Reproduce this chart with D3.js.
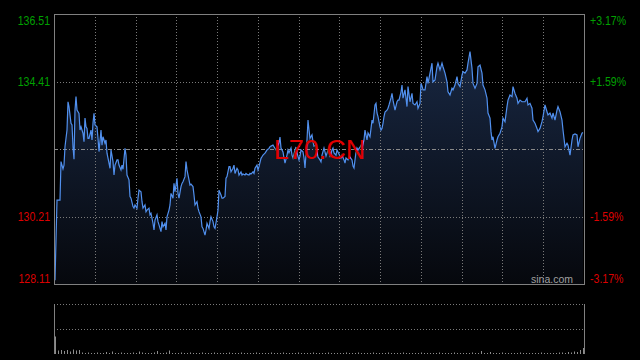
<!DOCTYPE html>
<html><head><meta charset="utf-8">
<script src="https://cdn.jsdelivr.net/npm/d3@7"></script>
<style>html,body{margin:0;padding:0;background:#000;overflow:hidden}</style>
</head><body><svg id="c" width="640" height="360"></svg>
<script>
const title = "L70.CN";
const source = "sina.com";
const prevClose = 132.31;
const priceTicks = [136.51, 134.41, 130.21, 128.11];
const pctLabels = ["+3.17%", "+1.59%", "-1.59%", "-3.17%"];
const gridPrices = [134.41, 132.31, 130.21];
const totalSlots = 530;
const minutes = [1,3,6,7,9,10,11,13,14,15,17,18,19,20,21,22,23,25,26,27,29,30,31,32,33,34,35,37,38,39,40,41,43,44,45,47,48,49,51,52,53,55,56,57,59,60,61,63,64,65,67,68,69,71,72,73,75,76,77,79,80,81,83,84,85,87,88,89,91,92,93,95,96,97,99,100,101,103,104,105,107,108,109,111,112,113,115,116,117,119,120,121,123,124,125,127,128,129,131,132,133,135,136,137,139,140,141,143,144,145,147,148,149,151,152,153,155,156,157,159,160,161,163,164,165,167,168,169,171,172,173,175,176,177,179,180,181,183,184,185,187,188,189,191,192,193,195,196,197,199,200,201,203,204,205,207,208,209,211,212,213,215,216,217,219,220,222,223,225,226,227,229,230,231,233,234,235,237,238,239,241,242,243,245,246,247,249,250,251,253,254,255,256,258,259,260,262,263,264,266,267,268,270,271,272,274,275,276,278,279,280,282,283,284,286,287,288,290,291,292,294,295,296,298,299,300,302,303,304,306,307,308,310,311,313,314,316,318,319,321,322,323,324,326,327,328,329,330,331,333,334,335,337,338,339,341,343,344,345,347,348,349,351,353,354,356,358,359,361,363,364,366,367,368,369,371,373,374,376,378,379,381,383,384,386,388,389,391,393,394,396,398,399,401,403,404,406,408,409,411,413,414,416,418,419,421,423,424,426,428,429,431,433,434,436,437,438,439,441,443,444,446,448,449,451,453,454,456,458,459,461,463,464,466,468,469,471,473,474,476,478,479,481,483,484,486,488,489,491,493,494,496,498,499,501,503,504,506,508,509,511,513,514,516,518,519,521,523,524,526,528,529];
const prices = [128.23,130.72,130.72,131.92,131.69,131.81,132.38,132.90,133.78,133.63,133.11,133.06,132.38,131.99,133.52,133.94,133.52,133.42,132.90,133.00,132.80,132.54,133.27,133.00,132.95,132.64,132.64,132.90,132.59,133.11,133.42,133.06,133.00,132.64,132.23,132.90,132.43,132.69,132.49,132.59,132.18,131.87,131.71,132.28,131.92,131.50,131.81,131.97,131.97,131.81,131.66,131.81,131.68,132.33,132.12,131.50,131.35,130.83,130.78,130.52,130.47,130.57,130.47,130.78,131.03,130.98,130.67,130.47,130.57,130.36,130.41,130.47,130.26,130.31,130.00,129.79,130.10,130.26,130.05,129.95,129.74,130.05,129.89,130.00,129.79,130.20,130.41,130.57,130.93,130.78,131.24,130.98,131.40,130.93,130.78,131.14,131.24,131.29,131.45,131.92,131.66,131.35,131.19,131.22,131.14,130.88,130.57,130.67,130.47,130.36,130.20,129.89,129.84,129.63,129.79,130.00,129.84,130.05,130.20,130.05,129.89,129.84,130.20,130.41,131.03,130.88,130.78,130.78,130.83,131.40,131.45,131.76,131.76,131.60,131.71,131.81,131.55,131.71,131.66,131.50,131.60,131.50,131.53,131.50,131.55,131.52,131.50,131.55,131.53,131.60,131.55,131.71,131.81,131.66,131.76,132.02,132.07,132.12,132.18,132.23,132.28,132.33,132.38,132.40,132.43,132.38,132.28,132.37,132.50,132.68,132.34,132.22,132.03,131.87,132.12,132.28,132.19,132.34,132.12,132.03,132.28,132.37,132.19,131.97,132.09,132.28,132.22,132.03,131.72,132.59,133.21,132.90,132.64,132.75,132.53,132.40,132.43,132.22,132.06,131.97,131.91,132.12,132.34,132.22,132.09,132.28,132.22,132.06,132.28,132.34,132.19,132.12,132.28,132.22,132.09,132.03,132.12,131.97,131.87,132.03,131.97,132.09,132.06,131.97,131.78,131.72,132.22,132.34,132.28,132.37,132.43,132.34,132.59,132.90,132.59,132.81,132.69,133.21,133.11,133.68,133.73,133.43,133.32,133.00,132.90,132.95,133.11,133.32,133.46,133.52,133.58,133.68,133.90,134.04,133.83,133.52,133.78,133.83,133.83,134.08,134.30,133.89,134.15,133.63,134.25,133.78,134.04,133.73,133.68,133.78,133.58,133.73,134.35,134.27,134.15,134.15,134.56,134.35,134.67,134.98,134.40,134.46,134.87,134.98,134.77,134.98,134.87,134.67,134.40,134.09,133.99,134.20,134.15,134.30,134.56,134.35,134.25,134.61,134.72,134.67,134.77,134.98,135.34,134.82,134.35,134.20,134.35,134.87,134.92,134.67,134.30,134.15,133.89,133.43,133.27,132.85,132.59,132.69,132.33,132.59,132.69,132.80,133.00,133.27,133.16,133.63,133.83,133.99,133.94,134.25,134.04,133.89,133.73,133.83,133.78,133.78,133.78,133.89,133.68,133.73,133.58,133.21,133.11,132.95,132.85,132.95,133.16,133.32,133.68,133.47,133.37,133.43,133.27,133.43,133.21,133.52,133.63,133.47,133.21,132.90,132.38,132.49,132.43,132.12,132.59,132.75,132.78,132.75,132.38,132.64,132.80,132.82];
const volStep = 3;
const volumes = [35,7,8,6,8,5,9,7,8,3,2,3,2,2,3,2,2,4,2,5,2,2,3,2,2,2,3,2,5,3,2,2,2,3,6,2,2,3,7,2,2,2,3,2,2,3,2,2,2,3,2,2,2,3,2,2,2,2,3,2,2,2,3,2,2,2,2,3,2,2,2,2,3,2,2,2,3,2,2,2,2,3,2,2,2,2,3,2,2,2,2,3,2,2,2,2,2,3,2,2,2,3,2,2,2,2,3,2,2,2,2,3,2,2,2,2,3,2,2,2,2,2,3,2,2,2,2,2,3,2,2,2,2,3,2,2,2,2,2,3,2,2,6,2,2,4,2,2,2,3,2,2,2,2,2,3,2,2,2,2,2,2,3,2,2,2,2,2,3,3,2,4,3,5,4,8,12];

const data = minutes.map((m, i) => ({t: m, p: prices[i]}));
const volData = volumes.map((v, i) => ({t: 1 + i * volStep, v}));

const L = 54, R = 584, T = 14, B = 284, VT = 304, VB = 354;
const svg = d3.select("#c");
svg.append("rect").attr("width", 640).attr("height", 360).attr("fill", "#000");

const x = d3.scaleLinear().domain([0, totalSlots]).range([L, R]);
const y = d3.scaleLinear().domain([128.11, 136.51]).range([B, T]);
const yv = d3.scaleLinear().domain([0, 100]).range([VB, VT]);

const defs = svg.append("defs");
const grad = defs.append("linearGradient").attr("id", "ag").attr("gradientUnits", "userSpaceOnUse")
  .attr("x1", 0).attr("x2", 0).attr("y1", y(135.4)).attr("y2", B);
grad.append("stop").attr("offset", 0).attr("stop-color", "#182742");
grad.append("stop").attr("offset", 1).attr("stop-color", "#06080d");

svg.append("path").datum(data)
  .attr("d", d3.area().x(d => x(d.t)).y0(B).y1(d => y(d.p)))
  .attr("fill", "url(#ag)");

const gridColor = "#7a7a7a";
const vTicks = d3.range(1, 13).map(k => totalSlots * k / 13);
svg.append("g").selectAll("line").data(vTicks).join("line")
  .attr("x1", d => Math.round(x(d)) + 0.5).attr("x2", d => Math.round(x(d)) + 0.5)
  .attr("y1", T).attr("y2", B)
  .attr("stroke", gridColor).attr("stroke-dasharray", "1,2");
svg.append("g").selectAll("line").data(gridPrices).join("line")
  .attr("x1", L).attr("x2", R)
  .attr("y1", d => Math.round(y(d)) + 0.5).attr("y2", d => Math.round(y(d)) + 0.5)
  .attr("stroke", d => d === prevClose ? "#8a8a8a" : gridColor)
  .attr("stroke-dasharray", d => d === prevClose ? "4,2,1,2" : "1,2");

svg.append("path").datum(data)
  .attr("d", d3.line().x(d => x(d.t)).y(d => y(d.p)))
  .attr("fill", "none").attr("stroke", "#5190ee").attr("stroke-width", 1.2);

svg.append("rect").attr("x", L + 0.5).attr("y", T + 0.5).attr("width", R - L).attr("height", B - T)
  .attr("fill", "none").attr("stroke", "#808080");

svg.append("g").selectAll("rect").data(volData).join("rect")
  .attr("x", d => Math.round(x(d.t))).attr("width", 1)
  .attr("y", d => yv(d.v)).attr("height", d => VB - yv(d.v))
  .attr("fill", "#8c8c8c");
svg.append("g").selectAll("line").data([VT, (VT + VB) / 2]).join("line")
  .attr("x1", L).attr("x2", R).attr("y1", d => Math.round(d) + 0.5).attr("y2", d => Math.round(d) + 0.5)
  .attr("stroke", gridColor).attr("stroke-dasharray", "1,2");
svg.append("g").selectAll("line").data([L, R]).join("line")
  .attr("x1", d => d + 0.5).attr("x2", d => d + 0.5).attr("y1", VT).attr("y2", VB)
  .attr("stroke", "#808080");

const font = "'Liberation Sans',Arial,sans-serif";
const colorOf = v => v > prevClose ? "#00a000" : "#dd0000";
const gl = svg.append("g").attr("transform", `translate(${L - 1},0)`)
  .call(d3.axisLeft(y).tickValues(priceTicks).tickSize(0).tickPadding(3).tickFormat(d3.format(".2f")));
const gr = svg.append("g").attr("transform", `translate(${R + 3},0)`)
  .call(d3.axisRight(y).tickValues(priceTicks).tickSize(0).tickPadding(3).tickFormat((d, i) => pctLabels[i]));
[gl, gr].forEach(g => {
  g.select(".domain").remove();
  g.selectAll("text")
    .attr("font-family", font).attr("font-size", "12px")
    .attr("fill", d => colorOf(d))
    .attr("dy", d => d === 136.51 ? "0.86em" : d === 128.11 ? "-0.14em" : "0.36em")
    .each(function() {
      const w = this.getComputedTextLength();
      d3.select(this).attr("textLength", w * 0.88).attr("lengthAdjust", "spacingAndGlyphs");
    });
});

svg.append("text").attr("x", 573).attr("y", 283).attr("text-anchor", "end")
  .attr("font-family", font).attr("font-size", "10.5px")
  .attr("fill", "#a0a0a0").text(source);

svg.append("text").attr("x", 319.5).attr("y", 159.3).attr("text-anchor", "middle")
  .attr("font-family", font).attr("font-size", "27px")
  .attr("fill", "#e00000").text(title);
</script></body></html>
